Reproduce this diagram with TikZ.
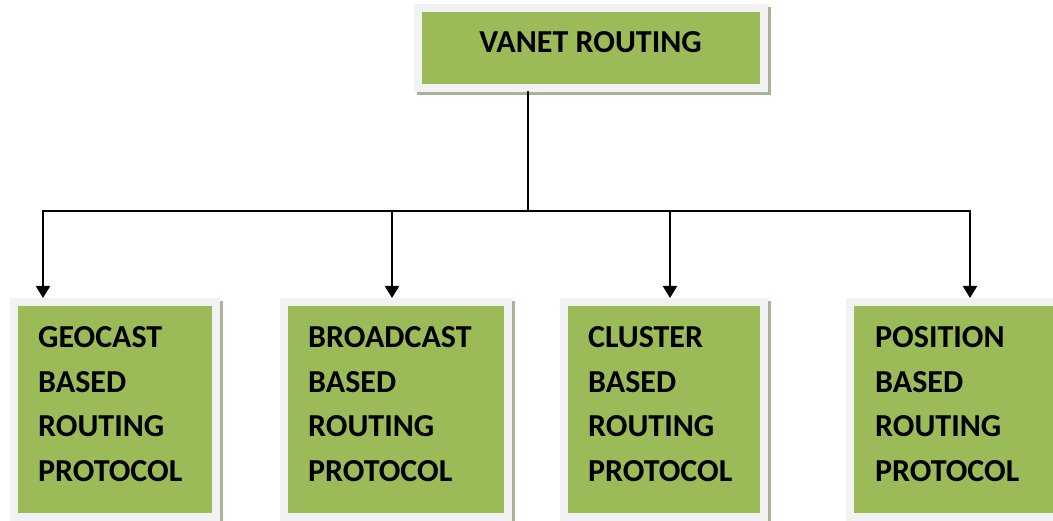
\documentclass[tikz,border=0pt]{standalone}
\usepackage{fontspec}
\setmainfont{Carlito}
\usetikzlibrary{arrows.meta}
\definecolor{Gfill}{RGB}{155,187,89}
\definecolor{Frame}{RGB}{242,242,242}
\definecolor{Shade}{RGB}{168,178,150}

\begin{document}
\begin{tikzpicture}[x=1pt,y=-1pt,
  box/.style={rectangle,draw=Frame,fill=Gfill,line width=8pt,inner sep=0pt,
    preaction={draw=Shade,line width=8pt,transform canvas={shift={(3pt,-3pt)}}}},
  txt/.style={anchor=north west,inner sep=0pt,align=left,
    font=\bfseries\fontsize{32}{44.5}\selectfont},
  link/.style={line width=2.2pt,line cap=rect},
  arr/.style={line width=2.2pt,-{Triangle[width=14pt,length=12pt]}}]
\useasboundingbox (0,0) rectangle (1053,521);
\clip (0,0) rectangle (1053,521);
% top box
\node[box,minimum width=346,minimum height=80] (vr) at (591,48) {};
\node[txt,anchor=base] (vrt) at (590.5,53) {VANET ROUTING};
% protocol boxes
\node[box,minimum width=202,minimum height=215] (geo) at (115,409.5) {};
\node[box,minimum width=224,minimum height=215] (bro) at (396,409.5) {};
\node[box,minimum width=200,minimum height=215] (clu) at (664,409.5) {};
\node[box,minimum width=213,minimum height=215] (pos) at (956.5,409.5) {};
\node[txt] (geot) at (38,326.5) {GEOCAST\\BASED\\ROUTING\\PROTOCOL};
\node[txt] (brot) at (308,326.5) {BROADCAST\\BASED\\ROUTING\\PROTOCOL};
\node[txt] (clut) at (588,326.5) {CLUSTER\\BASED\\ROUTING\\PROTOCOL};
\node[txt] (post) at (875,326.5) {POSITION\\BASED\\ROUTING\\PROTOCOL};
% connectors
\coordinate (hub) at (528,211);
\coordinate (tg) at (43,211);
\coordinate (tb) at (392,211);
\coordinate (tc) at (670,211);
\coordinate (tp) at (970,211);
\draw[link] (hub |- vr.south) -- (hub);
\draw[link] (tg) -- (tp);
\draw[arr] (tg) -- (tg |- geo.north);
\draw[arr] (tb) -- (tb |- bro.north);
\draw[arr] (tc) -- (tc |- clu.north);
\draw[arr] (tp) -- (tp |- pos.north);
\end{tikzpicture}
\end{document}
